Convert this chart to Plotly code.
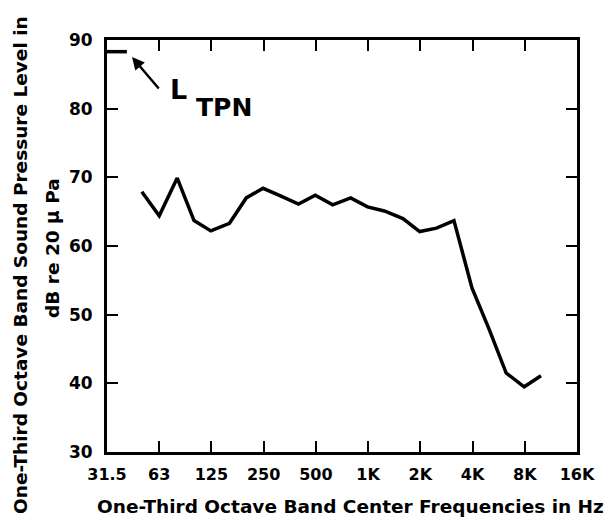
import plotly.graph_objects as go
import math

# --- data ---
freqs = [50, 63, 80, 100, 125, 160, 200, 250, 315, 400, 500, 630, 800, 1000,
         1250, 1600, 2000, 2500, 3150, 4000, 5000, 6300, 8000, 10000]
levels = [67.9, 64.4, 69.9, 63.7, 62.2, 63.3, 67.0, 68.4, 67.3, 66.1, 67.4, 66.0, 67.0, 65.7,
          65.1, 64.0, 62.1, 62.6, 63.7, 53.9, 48.0, 41.5, 39.5, 41.1]
ltpn_freqs = [31.5, 41]
ltpn_levels = [88.3, 88.3]
x_tickvals = [31.5, 63, 126, 252, 504, 1008, 2016, 4032, 8064, 16128]
x_ticktext = ["31.5", "63", "125", "250", "500", "1K", "2K", "4K", "8K", "16K"]
y_tickvals = [30, 40, 50, 60, 70, 80, 90]

W, H = 614, 523
ML, MR, MT, MB = 107, 37, 40, 71
pw, ph = W - ML - MR, H - MT - MB

def px(x):
    return (x - ML) / pw

def py(y):
    return (H - MB - y) / ph

FONT = "DejaVu Sans"

fig = go.Figure()
fig.add_trace(go.Scatter(x=freqs, y=levels, mode="lines",
                         line=dict(color="black", width=3.5), showlegend=False))
fig.add_trace(go.Scatter(x=ltpn_freqs, y=ltpn_levels, mode="lines",
                         line=dict(color="black", width=3.5), showlegend=False))

axis_common = dict(showgrid=False, zeroline=False, showline=True, linecolor="black",
                   linewidth=3, mirror="ticks", ticks="inside", ticklen=11, tickwidth=2,
                   tickcolor="black")

fig.update_xaxes(type="log", range=[math.log10(31.5), math.log10(31.5 * 512)],
                 tickvals=x_tickvals, ticktext=x_ticktext,
                 tickfont=dict(family=FONT, size=16, color="black", weight="bold"),
                 ticklabelstandoff=6, **axis_common)
fig.update_yaxes(range=[30, 90], tickvals=y_tickvals,
                 tickfont=dict(family=FONT, size=17, color="black", weight="bold"),
                 ticklabelstandoff=8, **axis_common)

def label(x, y, text, size, angle=0):
    return dict(xref="paper", yref="paper", x=px(x), y=py(y), text=text,
                showarrow=False, xanchor="center", yanchor="middle", textangle=angle,
                font=dict(family=FONT, size=size, color="black", weight="bold"))

ann = []
# arrow to LTPN line
ann.append(dict(xref="paper", yref="paper", x=px(132), y=py(57), ax=28, ay=33,
                text="", showarrow=True, arrowhead=2, arrowsize=1, arrowwidth=2.5,
                arrowcolor="black"))
ann.append(label(178, 90, "L", 27))
ann.append(label(224, 107, "TPN", 25))
# axis titles
ann.append(label(350, 506, "One-Third Octave Band Center Frequencies in Hz", 18.5))
ann.append(label(20, 265, "One-Third Octave Band Sound Pressure Level in", 18.5, -90))
ann.append(label(52, 248, "dB re 20 \u03bc Pa", 18.5, -90))

fig.update_layout(width=W, height=H, margin=dict(l=ML, r=MR, t=MT, b=MB),
                  plot_bgcolor="white", paper_bgcolor="white", annotations=ann)

fig.write_html("out.html")
